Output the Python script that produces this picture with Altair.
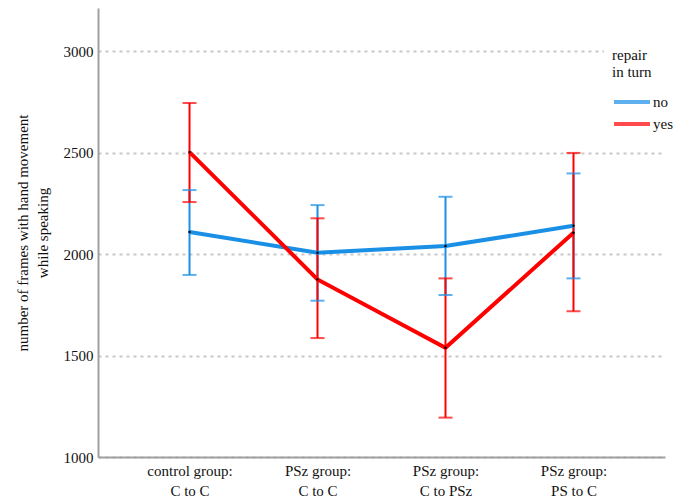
import altair as alt
import pandas as pd

categories = ["control group: C to C", "PSz group: C to C", "PSz group: C to PSz", "PSz group: PS to C"]
no_mean = [2108, 2006, 2039, 2139]
no_lo = [1897, 1770, 1798, 1880]
no_hi = [2315, 2241, 2282, 2397]
yes_mean = [2502, 1875, 1538, 2105]
yes_lo = [2256, 1586, 1194, 1718]
yes_hi = [2744, 2176, 1880, 2498]

rows = []
for i, c in enumerate(categories):
    rows.append(dict(cat=c, repair="no", mean=no_mean[i], lo=no_lo[i], hi=no_hi[i]))
for i, c in enumerate(categories):
    rows.append(dict(cat=c, repair="yes", mean=yes_mean[i], lo=yes_lo[i], hi=yes_hi[i]))
df = pd.DataFrame(rows)

FONT = "Liberation Serif"
FS = 15
color_enc = alt.Color("repair:N",
                      scale=alt.Scale(domain=["no", "yes"], range=["#1a8fe6", "#ff0000"]),
                      legend=alt.Legend(title=["repair", "in turn"], orient="none",
                                        legendX=506, legendY=32,
                                        titleFont=FONT, titleFontSize=FS, titleFontWeight="normal",
                                        titleColor="#111", titleLineHeight=17, titlePadding=11,
                                        labelFont=FONT, labelFontSize=FS, labelColor="#111",
                                        symbolType="M-1,0H3", symbolSize=324, symbolStrokeWidth=4,
                                        rowPadding=3, labelOffset=19, padding=8,
                                        fillColor="white"))
x_enc = alt.X("cat:N", sort=categories,
              scale=alt.Scale(type="point", padding=0.715),
              axis=alt.Axis(title=None, labelAngle=0,
                            labelExpr="[split(datum.label, ': ')[0] + ':', split(datum.label, ': ')[1]]",
                            labelLineHeight=20, labelPadding=6, ticks=False,
                            labelFontSize=FS, labelFont=FONT, labelColor="#111",
                            domainColor="#a0a0a0", domainWidth=2, grid=False))
y_scale = alt.Scale(domain=[1000, 3212], nice=False, zero=False)
y_axis = alt.Axis(title=["number of frames with hand movement", "while speaking"],
                  values=[1000, 1500, 2000, 2500, 3000], format="d", ticks=False,
                  labelFontSize=FS, labelFont=FONT, labelColor="#111", labelPadding=5,
                  titleFontSize=FS, titleFont=FONT, titleFontWeight="normal", titleColor="#111",
                  titleLineHeight=20, titlePadding=13,
                  domainColor="#a0a0a0", domainWidth=2,
                  grid=True, gridDash=[3, 4], gridColor="#c8c8c8", gridWidth=2)

base = alt.Chart(df)

rules = base.mark_rule(strokeWidth=2).encode(
    x=x_enc, y=alt.Y("lo:Q", scale=y_scale, axis=y_axis), y2="hi:Q", color=color_enc)
cap_lo = base.mark_tick(size=14, thickness=2).encode(
    x=x_enc, y=alt.Y("lo:Q", scale=y_scale), color=color_enc)
cap_hi = base.mark_tick(size=14, thickness=2).encode(
    x=x_enc, y=alt.Y("hi:Q", scale=y_scale), color=color_enc)
lines = base.mark_line(strokeWidth=4).encode(
    x=x_enc, y=alt.Y("mean:Q", scale=y_scale), color=color_enc)
dots = base.mark_point(filled=True, size=6, color="black", opacity=1).encode(
    x=x_enc, y=alt.Y("mean:Q", scale=y_scale))

chart = alt.layer(rules, cap_lo, cap_hi, lines, dots).properties(
    width=567, height=449, padding={"left": 90, "top": 0, "right": 12, "bottom": 40},
    autosize=alt.AutoSizeParams(type="none")
).configure_view(stroke=None)

chart.save("out.html", embed_options={"renderer": "svg", "actions": False})
